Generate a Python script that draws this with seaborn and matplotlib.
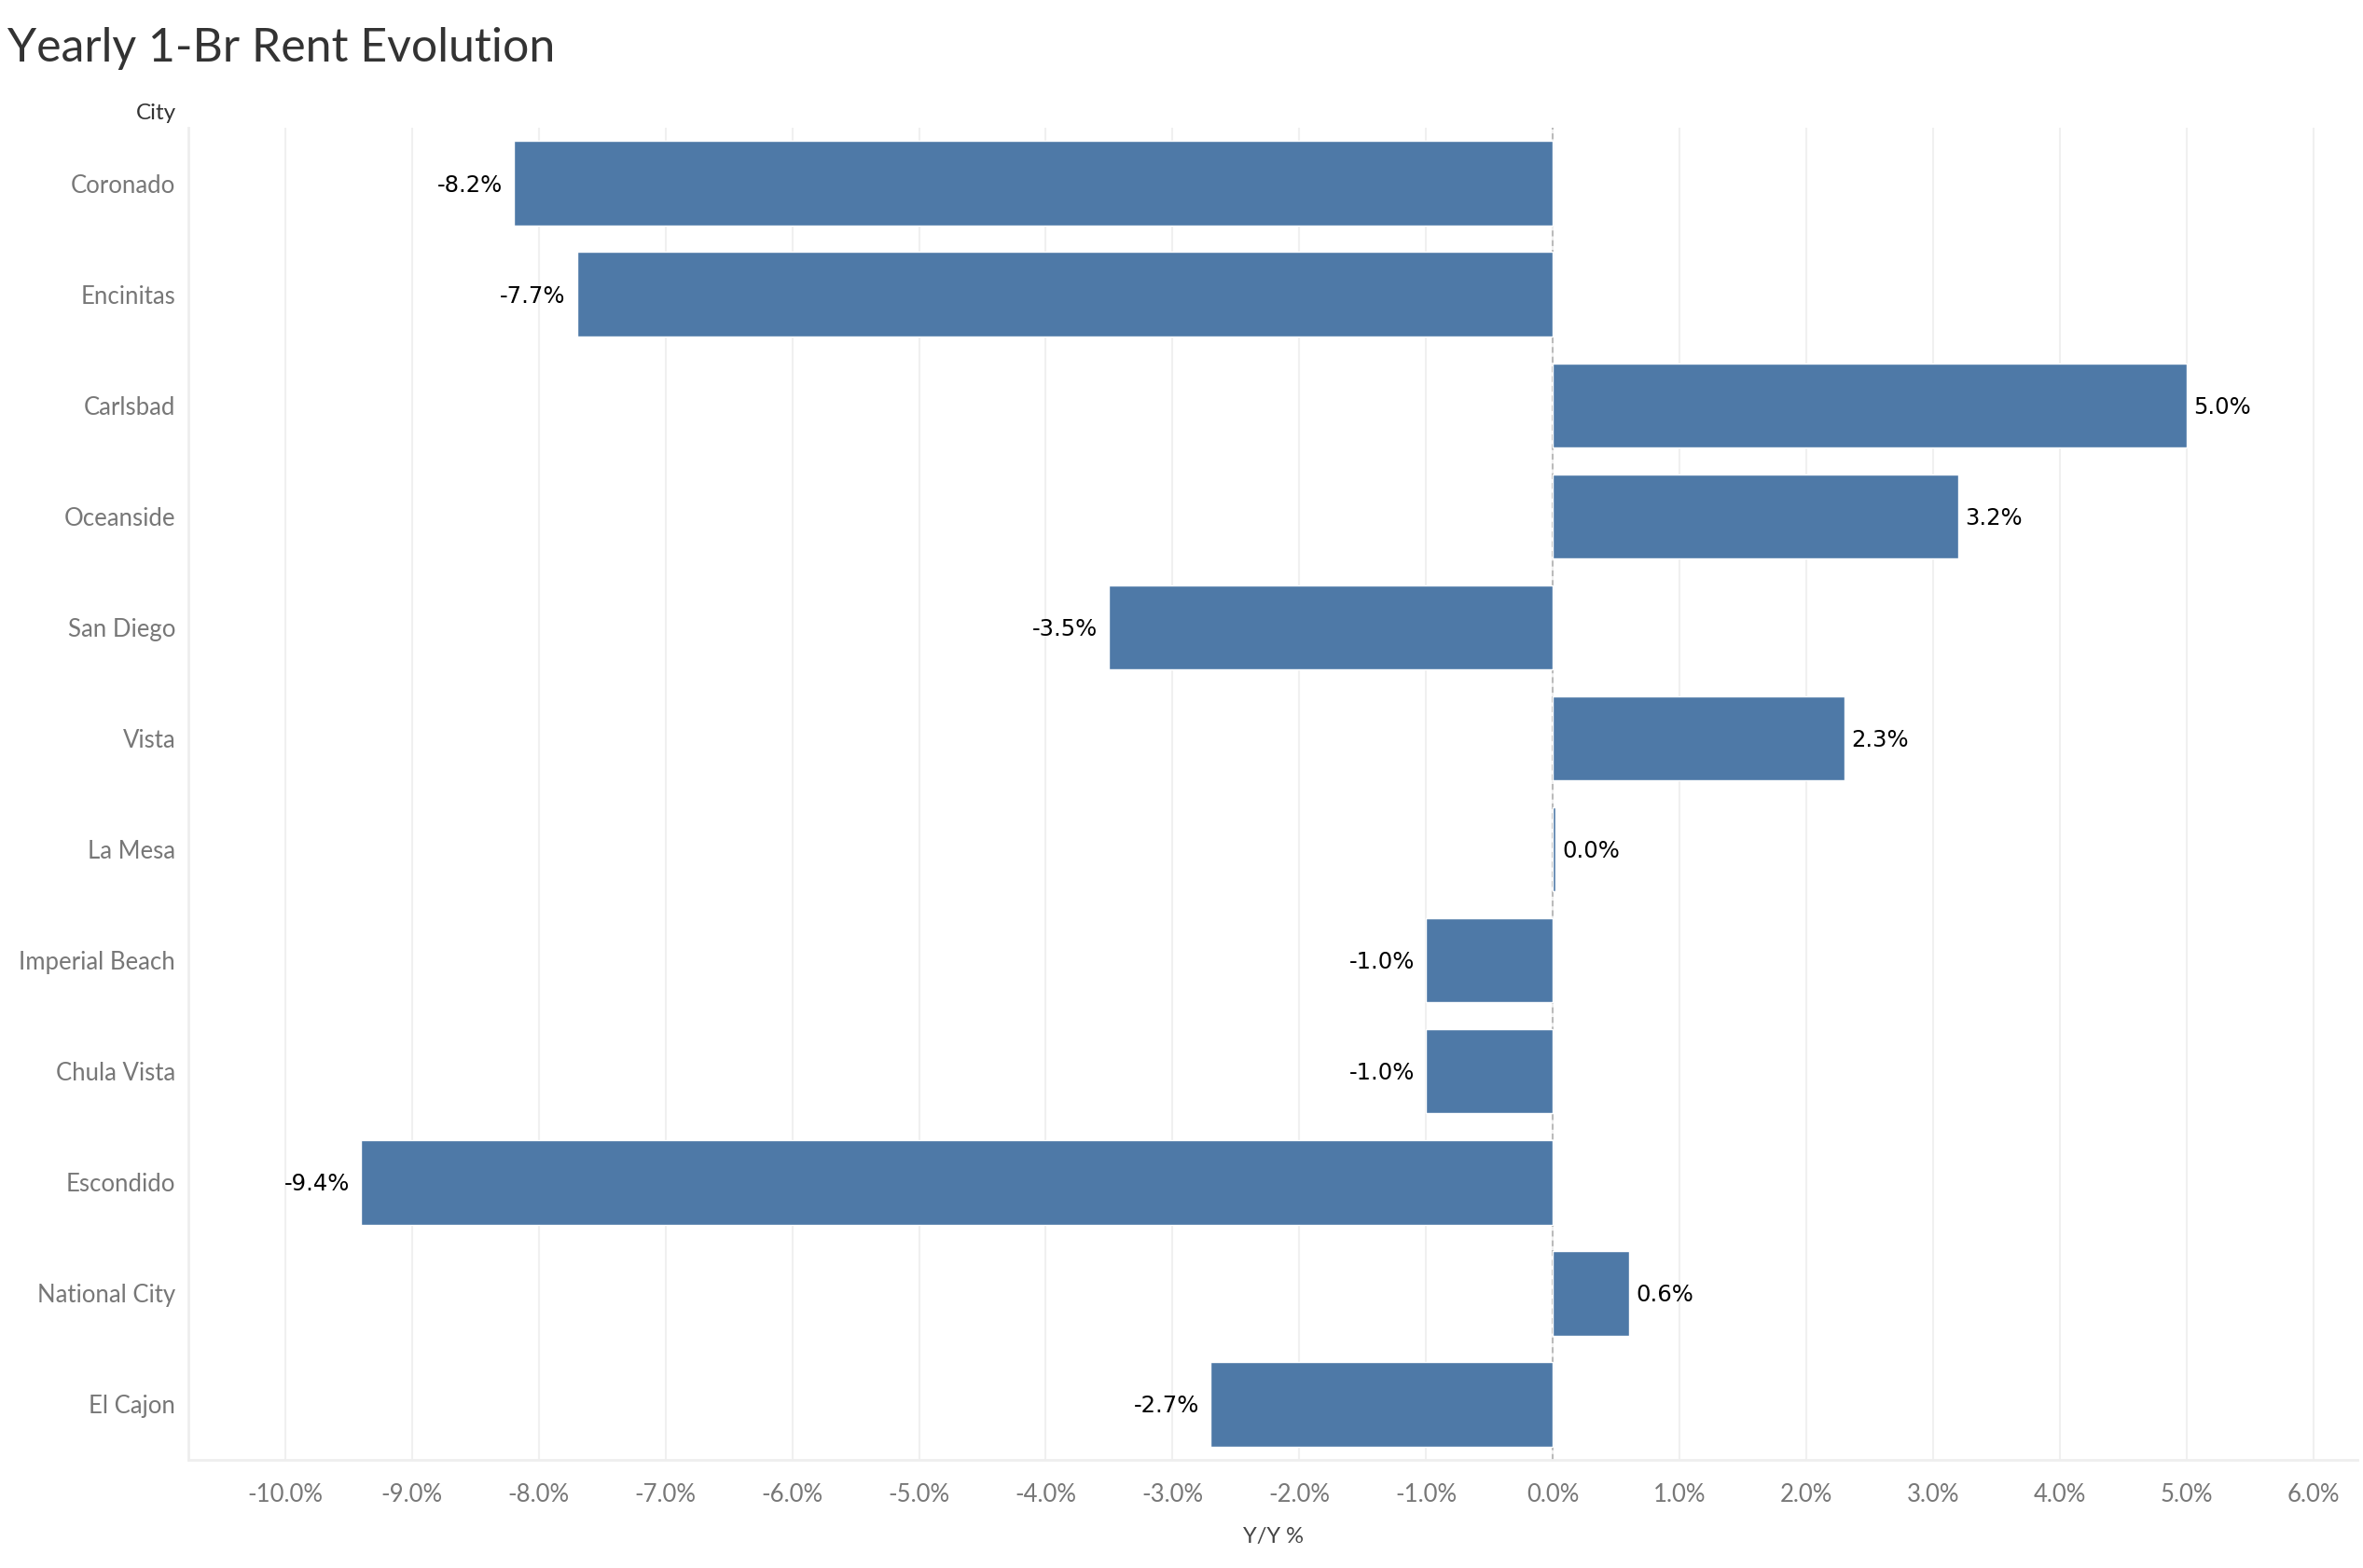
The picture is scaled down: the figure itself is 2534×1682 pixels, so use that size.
import numpy as np
import pandas as pd
import matplotlib
matplotlib.use('Agg')
import matplotlib.pyplot as plt
import seaborn as sns

#### DATA

cities = ['Coronado', 'Encinitas', 'Carlsbad', 'Oceanside', 'San Diego', 'Vista',
          'La Mesa', 'Imperial Beach', 'Chula Vista', 'Escondido', 'National City', 'El Cajon']
yy_pct = [-8.2, -7.7, 5.0, 3.2, -3.5, 2.3, 0.02, -1.0, -1.0, -9.4, 0.6, -2.7]
x_ticks = list(range(-10, 7))

df = pd.DataFrame({'City': cities, 'YY': yy_pct})

#### STYLE

bar_color = '#4E79A7'
grid_color = '#F0F0F0'
tick_color = '#777777'

sns.set_style("white")
plt.rcParams['font.family'] = ['Lato', 'DejaVu Sans']

#### PLOT

fig = plt.figure(figsize=(25.34, 16.82), dpi=100)
ax = fig.add_axes([0.0797, 0.069, 0.918, 0.8495])

for t in x_ticks:
    ax.axvline(t, color=grid_color, linewidth=1.5, zorder=0)
ax.axvline(0, color='#BBBBBB', linewidth=1.5, linestyle=(0, (3, 2)), zorder=1)

sns.barplot(data=df, x='YY', y='City', orient='h', color=bar_color,
            width=0.76, saturation=1, ax=ax, zorder=2)

# value labels
for i, v in enumerate(yy_pct):
    if v >= 0:
        ax.annotate(f"{v:.1f}%", (v, i), xytext=(5.5, -1.5), textcoords='offset points',
                    ha='left', va='center', fontsize=17.5, color='black', family='DejaVu Sans')
    else:
        ax.annotate(f"{v:.1f}%", (v, i), xytext=(-8.5, -1.5), textcoords='offset points',
                    ha='right', va='center', fontsize=17.5, color='black', family='DejaVu Sans')

ax.set_xlim(-10.765, 6.35)
ax.set_ylim(len(cities) - 0.5, -0.5)
ax.set_xticks(x_ticks)
ax.set_xticklabels([f"{t:.1f}%" for t in x_ticks])

ax.tick_params(axis='x', colors=tick_color, labelsize=18.5, length=8, width=1.2,
               color='#E6E6E6', pad=10)
ax.tick_params(axis='y', colors=tick_color, labelsize=18.5, length=0, pad=10)

for s in ['top', 'right']:
    ax.spines[s].set_visible(False)
for s in ['left', 'bottom']:
    ax.spines[s].set_color('#EEEEEE')
    ax.spines[s].set_linewidth(2)

ax.set_xlabel('Y/Y %', fontsize=17, color='#444444', labelpad=16)
ax.set_ylabel('')

fig.text(189 / 2534, 1 - 121 / 1682, 'City', ha='right', va='center', fontsize=17.5, color='#333333')
fig.text(8 / 2534, 1 - 52 / 1682, 'Yearly 1-Br Rent Evolution', ha='left', va='center',
         fontsize=36, color='#333333')

plt.savefig('out.png', dpi=100)
